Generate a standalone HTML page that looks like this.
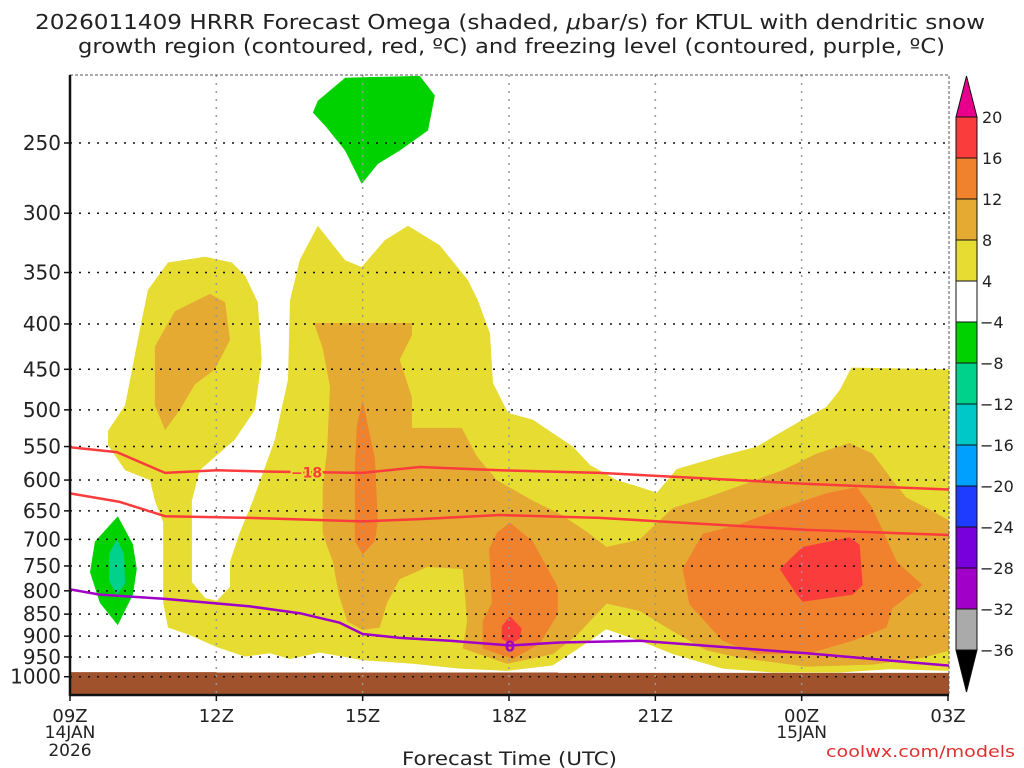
<!DOCTYPE html>
<html><head><meta charset="utf-8"><style>
html,body{margin:0;padding:0;background:#fff;}
svg{display:block;font-family:"DejaVu Sans","Liberation Sans",sans-serif;}
</style></head><body>
<svg id="chart" width="1024" height="768" viewBox="0 0 1024 768">
<defs><clipPath id="plotclip"><rect x="70" y="75" width="879" height="620"/></clipPath></defs>
<text x="35" y="29" font-size="20" fill="#222" textLength="950" lengthAdjust="spacingAndGlyphs">2026011409 HRRR Forecast Omega (shaded, <tspan font-style="italic">μ</tspan>bar/s) for KTUL with dendritic snow</text>
<text x="78" y="53" font-size="20" fill="#222" textLength="867" lengthAdjust="spacingAndGlyphs">growth region (contoured, red, ºC) and freezing level (contoured, purple, ºC)</text>
<g id="fills" clip-path="url(#plotclip)"></g>
<g id="grid"></g>
<g id="lines" clip-path="url(#plotclip)"></g>
<g id="axes"></g>
<g id="cbar"></g>
<text x="402" y="765" font-size="19" fill="#222" textLength="215" lengthAdjust="spacingAndGlyphs">Forecast Time (UTC)</text>
<text x="826" y="757" font-size="16" fill="#e03030" textLength="189" lengthAdjust="spacingAndGlyphs">coolwx.com/models</text>
</svg>
<script>
// ---- data ----
const hourTicks = [0,3,6,9,12,15,18];
const hourLabels = ["09Z","12Z","15Z","18Z","21Z","00Z","03Z"];
const presTicks = [250,300,350,400,450,500,550,600,650,700,750,800,850,900,950,1000];
const cbarLevels = ["20","16","12","8","4","-4","-8","-12","-16","-20","-24","-28","-32","-36"];
const cbarColors = ["#fa3c3c","#f0822d","#e5aa32","#e6dc32","#ffffff","#00d200","#00d28c","#00c8c8","#00a0ff","#1e3cff","#7800dc","#a000c8","#aaaaaa"];
const yellowMain = [[0.78,528],[1.13,494],[1.43,406],[1.6,366],[2.01,341],[2.77,336],[3.32,341],[3.59,353],[3.85,378],[3.93,439],[3.79,500],[3.38,540],[2.66,585],[2.5,633],[2.5,782],[2.77,815],[3.01,821],[3.28,792],[3.28,742],[3.48,688],[3.75,633],[4.2,540],[4.47,462],[4.51,376],[4.71,339],[5.08,310],[5.64,339],[5.98,345],[6.45,322],[6.93,310],[7.58,326],[8.16,357],[8.36,376],[8.61,410],[8.67,466],[8.98,504],[9.49,513],[10.31,550],[10.66,577],[11.21,600],[11.68,611],[12.03,620],[12.44,583],[13.38,563],[14.08,550],[14.55,531],[15.02,513],[15.51,496],[15.78,475],[16.02,448],[18.05,450],[18.05,985],[16.8,981],[15.78,989],[14.41,989],[13.38,979],[12.36,943],[11.68,911],[10.99,884],[10.66,911],[9.9,971],[8.96,985],[7.99,979],[7.03,967],[6.0,958],[5.12,939],[4.51,955],[4.1,941],[3.59,949],[3.01,926],[2.46,898],[2.01,880],[1.91,825],[1.91,670],[1.74,633],[1.64,600],[1.13,585],[0.78,548]];
const darkYellowLeft = [[1.74,424],[2.15,387],[2.87,370],[3.18,378],[3.28,417],[2.97,450],[2.56,468],[2.25,500],[1.95,527],[1.74,494]];
const darkYellowMain = [[5.0,399],[7.01,399],[7.01,412],[6.76,439],[7.01,484],[7.01,524],[8.03,524],[8.34,564],[8.75,600],[9.49,633],[10.04,655],[10.59,686],[11.0,714],[11.68,700],[12.36,645],[13.05,628],[13.73,609],[14.61,585],[15.31,560],[15.98,545],[16.45,560],[16.86,600],[17.15,628],[17.68,650],[18.05,668],[18.05,934],[17.48,952],[16.45,969],[15.1,974],[13.73,952],[13.05,934],[12.36,889],[11.68,843],[11.0,827],[10.39,898],[9.9,943],[8.96,967],[8.05,929],[8.14,866],[8.05,756],[7.32,752],[6.76,776],[6.5,825],[6.35,880],[6.0,886],[5.68,866],[5.51,808],[5.39,742],[5.18,690],[5.18,611],[5.27,555],[5.33,471],[5.18,426]];
const orangeA = [[6.0,487],[6.11,522],[6.25,567],[6.31,668],[6.25,703],[6.0,728],[5.84,703],[5.84,577],[5.88,522]];
const orangeB = [[9.02,670],[9.49,704],[10.0,792],[10.0,850],[9.63,918],[9.08,955],[8.46,929],[8.46,866],[8.65,825],[8.59,718],[8.75,688]];
const orangeC = [[12.56,756],[12.97,690],[13.73,673],[14.61,645],[15.51,621],[16.13,611],[16.45,645],[16.95,742],[17.48,788],[16.86,837],[16.74,880],[16.05,911],[15.1,943],[14.08,943],[13.38,911],[12.7,829]];
const redD = [[9.02,855],[9.26,882],[9.22,906],[9.02,918],[8.85,906],[8.85,877]];
const redE = [[14.55,756],[15.02,714],[15.98,696],[16.19,710],[16.25,788],[16.05,808],[15.02,823],[14.9,808]];
const greenTop = [[5.08,224],[5.64,211],[7.17,210],[7.48,221],[7.34,242],[6.76,255],[6.31,264],[5.98,278],[5.64,255],[5.23,239],[4.98,231]];
const greenLeft = [[0.98,659],[1.29,709],[1.37,756],[1.29,808],[0.98,875],[0.61,825],[0.41,762],[0.51,704]];
const tealLeft = [[0.96,700],[1.11,727],[1.13,786],[0.96,808],[0.8,780],[0.8,727]];
const surfaceHours = [0,3,3.01,10,10.01,18.1];
const surfacePres = [988,988,989,989,990,990];
const dgzUpper = [[0,551],[0.96,558],[1.95,589],[3.01,585],[4.1,587],[6,589],[7.17,580],[8.81,585],[10.86,589],[12.91,597],[15.1,606],[18.05,615]];
const dgzLower = [[0,621],[1.02,635],[1.95,659],[3.69,662],[6,668],[7.17,664],[8.81,657],[10.86,662],[11.68,666],[15.1,683],[18.05,692]];
const freezing = [[0,797],[0.61,808],[1.95,817],[3.69,833],[4.71,848],[5.53,869],[6,895],[6.76,904],[7.79,911],[9.02,922],[10.04,915],[11.68,911],[15.1,941],[18.05,972]];

// ---- axes ----
const X0=70, X1=948, YT=75, YB=695;
function xS(h){return X0+h*(X1-X0)/18;}
function yS(p){return 143+385*Math.log(p/250);}
const NS="http://www.w3.org/2000/svg";
function mk(tag,attrs,parent){const e=document.createElementNS(NS,tag);for(const k in attrs)e.setAttribute(k,attrs[k]);parent.appendChild(e);return e;}
function pts(arr){return arr.map(d=>xS(d[0]).toFixed(1)+","+yS(d[1]).toFixed(1)).join(" ");}

const fills=document.getElementById("fills");
function poly(arr,color,name){
  const e=mk("polygon",{points:pts(arr),fill:color},fills);
  
  
}
poly(yellowMain,"#e6dc32","omega-4-8-region");
poly(darkYellowLeft,"#e5aa32","omega-8-12-left");
poly(darkYellowMain,"#e5aa32","omega-8-12-main");
poly(orangeA,"#f0822d","omega-12-16-a");
poly(orangeB,"#f0822d","omega-12-16-b");
poly(orangeC,"#f0822d","omega-12-16-c");
poly(redD,"#fa3c3c","omega-16-20-a");
poly(redE,"#fa3c3c","omega-16-20-b");
poly(greenTop,"#00d200","omega-neg4-neg8-top");
poly(greenLeft,"#00d200","omega-neg4-neg8-left");
poly(tealLeft,"#00d28c","omega-neg8-neg12-left");
const gp=surfaceHours.map((h,i)=>[h,surfacePres[i]]);
const gpoints=pts(gp)+" "+xS(18.1)+","+YB+" "+xS(0)+","+YB;
const ground=mk("polygon",{points:gpoints,fill:"#a0522d"},fills);



const grid=document.getElementById("grid");
presTicks.forEach(p=>{
  const l=mk("line",{x1:X0,x2:X1,y1:yS(p),y2:yS(p),stroke:"#111","stroke-width":1.5,"stroke-dasharray":"2,7"},grid);
  
  
});
hourTicks.slice(1,-1).forEach(h=>{
  const l=mk("line",{x1:xS(h),x2:xS(h),y1:YT,y2:YB,stroke:"#999","stroke-width":1.5,"stroke-dasharray":"2,6"},grid);
  
  
});

const lines=document.getElementById("lines");
function pl(arr,color,w,name){
  const e=mk("polyline",{points:pts(arr),fill:"none",stroke:color,"stroke-width":w,"stroke-linejoin":"round"},lines);
  
  
}
pl(dgzUpper,"#fa3c3c",2.5,"dgz-minus18-contour");
pl(dgzLower,"#fa3c3c",2.5,"dgz-minus12-contour");
pl(freezing,"#a000c8",2.5,"freezing-level-contour");
const lbl1=mk("text",{x:xS(4.85),y:yS(588)+5,"text-anchor":"middle","font-size":14,"font-weight":"bold",fill:"#fa3c3c",stroke:"#e6dc32","stroke-width":4,"paint-order":"stroke"},lines);
lbl1.textContent="−18";


const lbl2=mk("text",{x:xS(9.02),y:yS(922)+6,"text-anchor":"middle","font-size":15,"font-weight":"bold",fill:"#a000c8"},lines);
lbl2.textContent="0";



const axes=document.getElementById("axes");
mk("rect",{x:X0,y:YT,width:X1-X0+1,height:YB-YT,fill:"none",stroke:"#555","stroke-width":1,"stroke-dasharray":"3,2"},axes);
mk("line",{x1:X0,x2:X0,y1:YT,y2:YB+1,stroke:"#111","stroke-width":2.5},axes);
mk("line",{x1:X0,x2:X1+1,y1:YB,y2:YB,stroke:"#111","stroke-width":2.5},axes);
presTicks.forEach(p=>{
  mk("line",{x1:X0-6,x2:X0,y1:yS(p),y2:yS(p),stroke:"#111","stroke-width":1.5},axes);
  const t=mk("text",{x:X0-9,y:yS(p)+7,"text-anchor":"end","font-size":20,fill:"#222"},axes);
  t.textContent=p;
  
  
});
hourTicks.forEach((h,i)=>{
  mk("line",{x1:xS(h),x2:xS(h),y1:YB,y2:YB+6,stroke:"#111","stroke-width":1.5},axes);
  const t=mk("text",{x:xS(h),y:YB+27,"text-anchor":"middle","font-size":18,fill:"#222"},axes);
  t.textContent=hourLabels[i];
  
  
});
[["14JAN",0,738],["2026",0,756],["15JAN",15,738]].forEach(d=>{
  const t=mk("text",{x:xS(d[1]),y:d[2],"text-anchor":"middle","font-size":17,fill:"#222"},axes);
  t.textContent=d[0];
  
  
});

const cb=document.getElementById("cbar");
const CX0=956, CX1=977, CT=117, CB=650;
const bh=(CB-CT)/cbarColors.length;
mk("polygon",{points:`${CX0},${CT} ${CX1},${CT} ${(CX0+CX1)/2},76`,fill:"#e8008c",stroke:"#111","stroke-width":1},cb);
mk("polygon",{points:`${CX0},${CB} ${CX1},${CB} ${(CX0+CX1)/2},692`,fill:"#000",stroke:"#111","stroke-width":1},cb);
cbarColors.forEach((c,i)=>{
  const r=mk("rect",{x:CX0,y:CT+i*bh,width:CX1-CX0,height:bh,fill:c,stroke:"#111","stroke-width":1},cb);
  
  
});
cbarLevels.forEach((s,i)=>{
  const t=mk("text",{x:s.startsWith("-")?CX1+3:CX1+5,y:CT+i*bh+6,"font-size":16,fill:"#222"},cb);
  t.textContent=s.replace("-","−");
  
  
});
</script>
</body></html>
